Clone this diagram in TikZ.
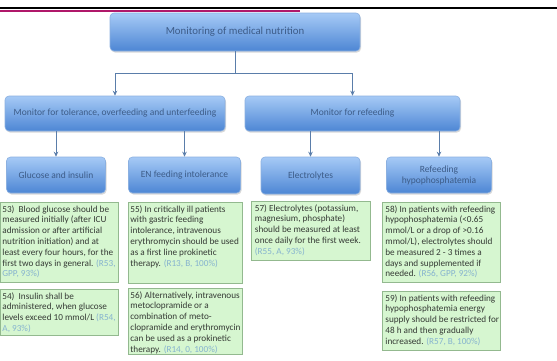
\documentclass[tikz,border=0pt]{standalone}
\usepackage{fontspec}
\setmainfont{Carlito}
\usetikzlibrary{shadows,arrows.meta}

\definecolor{boxtop}{HTML}{A6CAF6}
\definecolor{boxbot}{HTML}{4D86D4}
\definecolor{boxline}{HTML}{8BB0E0}
\definecolor{boxtext}{HTML}{3D5C88}
\definecolor{gfill}{HTML}{D6F6D0}
\definecolor{gline}{HTML}{93B98F}
\definecolor{gtext}{HTML}{353A35}
\definecolor{reftext}{HTML}{86B3CF}
\definecolor{conn}{HTML}{5A7DAA}
\definecolor{band}{HTML}{B0186A}

\newcommand{\refnote}[1]{\textcolor{reftext}{#1}}

\tikzset{
  bluebox/.style={rounded corners=4pt, draw=boxline, line width=0.6pt,
    top color=boxtop, bottom color=boxbot, text=boxtext,
    font=\fontsize{9.5}{11}\selectfont, align=center, inner sep=0pt,
    drop shadow={shadow xshift=1pt, shadow yshift=-1.5pt, opacity=0.3}},
  greenbox/.style={draw=gline, fill=gfill, line width=0.6pt, inner sep=0pt,
    drop shadow={shadow xshift=1.2pt, shadow yshift=-1.2pt, opacity=0.35}},
  notetext/.style={anchor=north west, xshift=2.5pt, yshift=-3.5pt, inner sep=0pt,
    align=left, text=gtext, font=\fontsize{9.2}{10.8}\selectfont},
  connector/.style={draw=conn, line width=1pt},
  arrowed/.style={connector, -{Stealth[length=5pt,width=4.5pt]}}
}

\begin{document}
\begin{tikzpicture}[x=1pt,y=-1pt]
\useasboundingbox (0,0) rectangle (557,360);

% header rules
\draw[black, line width=2pt] (0,8) -- (557,8);
\draw[band, line width=2.5pt] (0,10.8) -- (300,10.8);

% level 1
\node[bluebox, minimum width=250pt, minimum height=38pt, font=\fontsize{10.8}{12}\selectfont]
  (top) at (235,32) {Monitoring of medical nutrition};

% level 2
\node[bluebox, minimum width=220pt, minimum height=35pt] (tol) at (115,113.5)
  {Monitor for tolerance, overfeeding and unterfeeding};
\node[bluebox, minimum width=215pt, minimum height=35pt] (ref) at (352.5,113.5)
  {Monitor for refeeding};

% level 3
\node[bluebox, minimum width=99pt, minimum height=36pt] (gluc) at (56,175)
  {Glucose and insulin};
\node[bluebox, minimum width=112pt, minimum height=36pt] (enf) at (184.5,175)
  {EN feeding intolerance};
\node[bluebox, minimum width=99pt, minimum height=37pt] (elec) at (310.5,175.5)
  {Electrolytes};
\node[bluebox, minimum width=105pt, minimum height=36pt] (hypo) at (439,175)
  {Refeeding\\hypophosphatemia};

% recommendation boxes (text set as a label in the top left corner)
\node[greenbox, minimum width=118pt, minimum height=80pt,
  label={[notetext]north west:{53)\ \ Blood glucose should be\\measured initially (after ICU\\admission or after artificial\\nutrition initiation) and at\\least every four hours, for the\\first two days in general. \refnote{(R53,}\\\refnote{GPP, 93\%)}}}] (r53) at (59,242) {};
\node[greenbox, minimum width=118pt, minimum height=46pt,
  label={[notetext]north west:{54)\ \ Insulin shall be\\administered, when glucose\\levels exceed 10 mmol/L \refnote{(R54,}\\\refnote{A, 93\%)}}}] (r54) at (59,312) {};
\node[greenbox, minimum width=114pt, minimum height=81pt,
  label={[notetext]north west:{55) In critically ill patients\\with gastric feeding\\intolerance, intravenous\\erythromycin should be used\\as a first line prokinetic\\therapy. \refnote{(R13, B, 100\%)}}}] (r55) at (185,242.5) {};
\node[greenbox, minimum width=114pt, minimum height=66pt,
  label={[notetext]north west:{56) Alternatively, intravenous\\metoclopramide or a\\combination of meto-\\clopramide and erythromycin\\can be used as a prokinetic\\therapy. \refnote{(R14, 0, 100\%)}}}] (r56) at (185,321) {};
\node[greenbox, minimum width=119pt, minimum height=59pt,
  label={[notetext, xshift=1.5pt]north west:{57) Electrolytes (potassium,\\magnesium, phosphate)\\should be measured at least\\once daily for the first week.\\\refnote{(R55, A, 93\%)}}}] (r57) at (310.5,230.5) {};
\node[greenbox, minimum width=118pt, minimum height=80pt,
  label={[notetext, xshift=1pt]north west:{58) In patients with refeeding\\hypophosphatemia (<0.65\\mmol/L or a drop of >0.16\\mmol/L), electrolytes should\\be measured 2 - 3 times a\\days and supplemented if\\needed. \refnote{(R56, GPP, 92\%)}}}] (r58) at (441,242) {};
\node[greenbox, minimum width=118pt, minimum height=59pt,
  label={[notetext, xshift=1pt]north west:{59) In patients with refeeding\\hypophosphatemia energy\\supply should be restricted for\\48 h and then gradually\\increased. \refnote{(R57, B, 100\%)}}}] (r59) at (441,320.5) {};

% connectors
\coordinate (split) at (235,73);
\draw[connector] (top.south) -- (split);
\draw[arrowed] (split) -| (tol.north);
\draw[arrowed] (split) -| (ref.north);
\draw[arrowed] (tol.south -| gluc.north) -- (gluc.north);
\draw[arrowed] (tol.south -| enf.north) -- (enf.north);
\draw[arrowed] (ref.south -| elec.north) -- (elec.north);
\draw[arrowed] (ref.south -| hypo.north) -- (hypo.north);
\end{tikzpicture}
\end{document}
